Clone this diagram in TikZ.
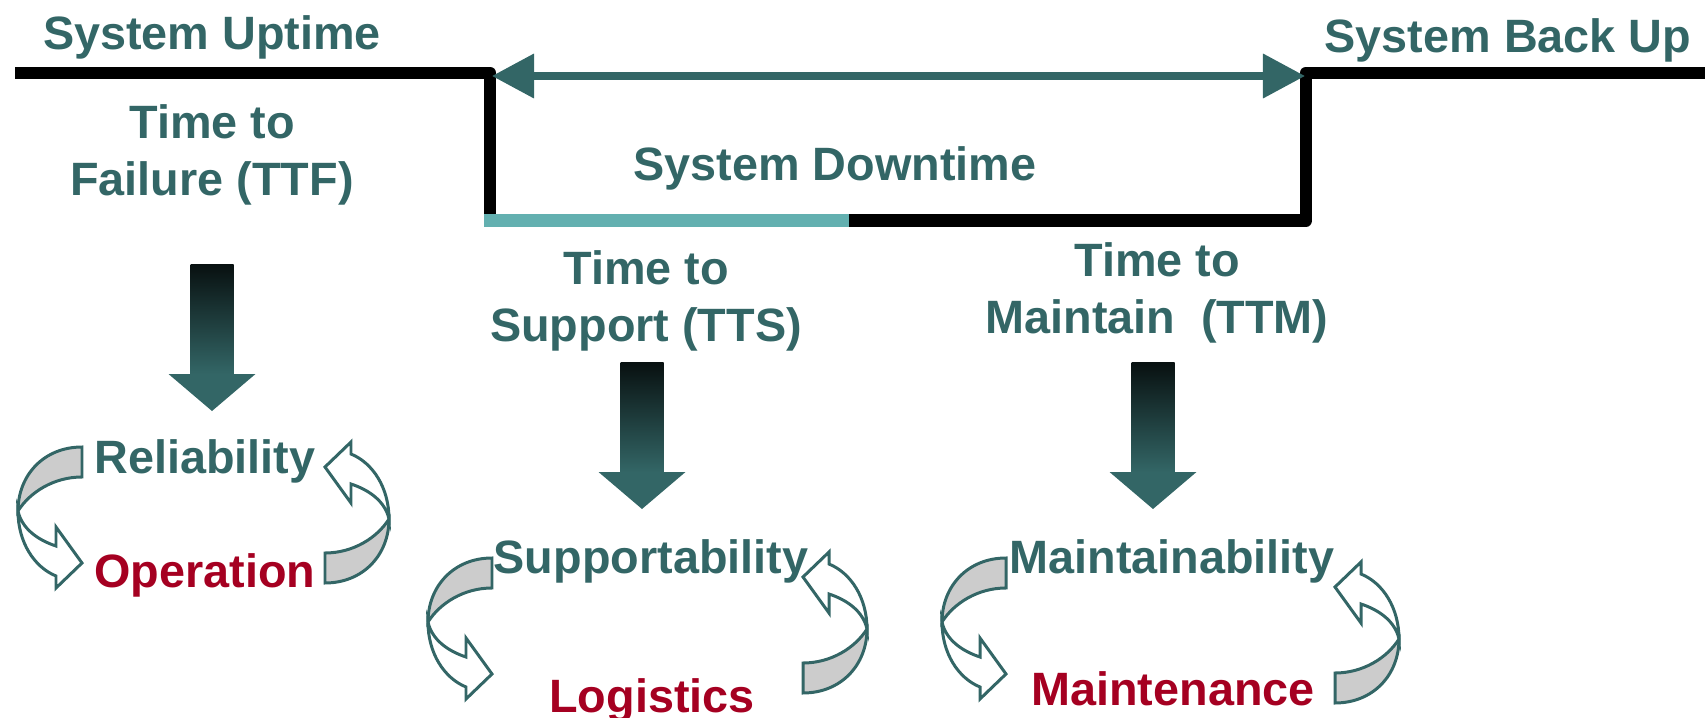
\documentclass[tikz,border=0pt]{standalone}
\usepackage{fontspec}
\setmainfont{Liberation Sans}
\usetikzlibrary{arrows.meta}
\definecolor{tealtxt}{RGB}{51,102,102}
\definecolor{redtxt}{RGB}{165,0,33}
\definecolor{bandteal}{RGB}{99,176,176}
\definecolor{ribgray}{RGB}{204,204,204}
\definecolor{arrtop}{RGB}{8,16,16}
\tikzset{
  cyclearr/.pic={
    \filldraw[fill=ribgray,draw=tealtxt,line width=0.85pt]
      (0,0) .. controls (-38,0) and (-64,28) .. (-64,64)
      .. controls (-52,45) and (-28,30) .. (0,30) -- cycle;
    \filldraw[fill=white,draw=tealtxt,line width=0.85pt]
      (-64,64) .. controls (-64,95) and (-48,120) .. (-26,129)
      -- (-26,141) -- (0,116) -- (-26,80) -- (-26,99)
      .. controls (-44,93) and (-60,82) .. (-64,64) -- cycle;
  },
  dnarrow/.pic={
    \shade[top color=arrtop,bottom color=tealtxt] (-21.5,0) rectangle (21.5,110);
    \fill[tealtxt] (-43.5,110) -- (43.5,110) -- (0,147) -- cycle;
  }
}

\begin{document}
\begin{tikzpicture}[x=0.01cm,y=-0.01cm,>={Triangle[length=4.2mm,width=4.3mm]},
  lbl/.style={font=\bfseries\fontsize{13.3}{16.2}\selectfont,text=tealtxt,align=center,inner sep=0pt,anchor=base},
  act/.style={lbl,text=redtxt},
  sysline/.style={line width=3.6pt,line join=round}]
\useasboundingbox (0,0) rectangle (1705,718);
% timeline
\coordinate (start) at (15,73);
\coordinate (fail) at (490,73);
\coordinate (up) at (1306,73);
\coordinate (stop) at (1705,73);
\draw[sysline] (start) -- (fail) -- (490,214);
\draw[line width=3.7pt,bandteal] (484,220.5) -- (849,220.5);
\draw[sysline] (849,220.5) -- (1306,220.5) -- (up) -- (stop);
\coordinate (dl) at (492,76);
\coordinate (dr) at (1305,76);
\draw[<->,tealtxt,line width=2pt] (dl) -- (dr);
% labels on the timeline (base = last line)
\node[lbl] (uptime) at (212,50) {System Uptime};
\node[lbl] (backup) at (1508,52) {System Back Up};
\node[lbl] (ttf) at (212,195) {Time to\\Failure (TTF)};
\node[lbl] (downtime) at (835,180) {System Downtime};
\node[lbl] (tts) at (646,341) {Time to\\Support (TTS)};
\node[lbl] (ttm) at (1157,333) {Time to\\Maintain\ \ (TTM)};
% down arrows
\pic at (212,264) {dnarrow};
\pic at (642,362) {dnarrow};
\pic at (1153,362) {dnarrow};
% cycles
\node[lbl] (rel) at (205,473) {Reliability};
\node[act] (op) at (205,587) {Operation};
\pic at (82,447) {cyclearr};
\pic[rotate=180] at (325,583) {cyclearr};
\node[lbl] (sup) at (651,573) {Supportability};
\node[act] (log) at (652,712) {Logistics};
\pic at (492,558) {cyclearr};
\pic[rotate=180] at (803,693) {cyclearr};
\node[lbl] (mtb) at (1172,573) {Maintainability};
\node[act] (mnt) at (1173,705) {Maintenance};
\pic at (1006,558) {cyclearr};
\pic[rotate=180] at (1335,703) {cyclearr};
\end{tikzpicture}
\end{document}
